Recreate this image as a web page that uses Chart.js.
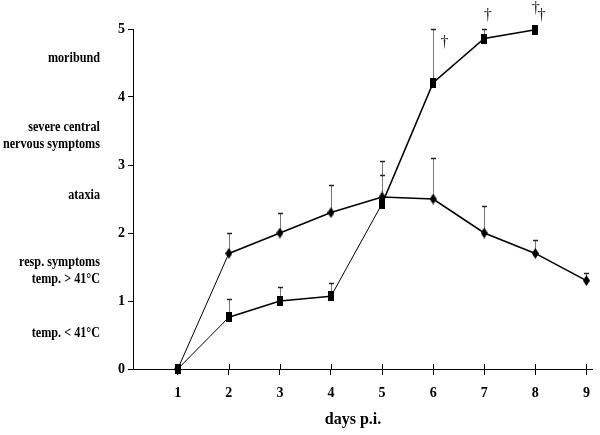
<!DOCTYPE html>
<html><head><meta charset="utf-8">
<script src="https://cdn.jsdelivr.net/npm/chart.js@4/dist/chart.umd.min.js"></script>
<style>html,body{margin:0;padding:0;background:#fff}#wrap{width:600px;height:435px;position:relative}</style>
</head><body><div id="wrap"><canvas id="c"></canvas></div>
<script>
const days = [1,2,3,4,5,6,7,8,9];
const diamondMean = [0,1.7,2.0,2.3,2.53,2.5,2.0,1.7,1.3];
const diamondUpper = [null,2.0,2.3,2.7,3.06,3.1,2.4,1.9,1.41];
const squareDays = [1,2,3,4,5,6,7,8];
const squareMean = [0,0.76,1.0,1.07,2.43,4.21,4.86,4.99];
const squareUpper = [null,1.03,1.21,1.26,2.86,5.0,5.0,null];
const yTicks = [0,1,2,3,4,5];
const stageLabels = [['moribund'],['severe central','nervous symptoms'],['ataxia'],['resp. symptoms','temp. > 41°C'],['temp. < 41°C']];
const stageLevels = [4.57,3.43,2.56,1.44,0.53];
const daggerDays = [6.22,7.07,8.01,8.12];
const daggerValues = [4.79,5.2,5.29,5.2];
const xTitle = 'days p.i.';

const SERIF = '"Liberation Serif","Times New Roman",serif';

function mk(w,h,draw){const c=document.createElement('canvas');c.width=w;c.height=h;const g=c.getContext('2d');g.fillStyle='#000';draw(g,w,h);return c;}
const sqImg = mk(6,10,(g,w,h)=>g.fillRect(0,0,w,h));
const dmImg = mk(7,11,(g,w,h)=>{g.beginPath();g.moveTo(w/2,0);g.lineTo(w,h/2);g.lineTo(w/2,h);g.lineTo(0,h/2);g.closePath();g.fill();});

const overlay = {
  id:'overlay',
  beforeDatasetsDraw(chart){
    const ctx=chart.ctx, xs=chart.scales.x, ys=chart.scales.y;
    ctx.save();
    const bars=[[days,diamondUpper,diamondMean],[squareDays,squareUpper,squareMean]];
    bars.forEach(([dx,up,mn])=>{
      dx.forEach((d,i)=>{
        if(up[i]==null) return;
        const px=Math.round(xs.getPixelForValue(d))+0.5;
        const y0=ys.getPixelForValue(mn[i]), y1=Math.round(ys.getPixelForValue(up[i]))+0.5;
        ctx.strokeStyle='#777';ctx.lineWidth=1;
        ctx.beginPath();ctx.moveTo(px,y0);ctx.lineTo(px,y1);ctx.stroke();
        ctx.strokeStyle='#222';ctx.lineWidth=1.5;
        ctx.beginPath();ctx.moveTo(px-2.5,y1);ctx.lineTo(px+2.5,y1);ctx.stroke();
      });
    });
    ctx.strokeStyle='#000';ctx.lineWidth=1;
    const yb=ys.getPixelForValue(0);
    days.forEach(d=>{const px=Math.round(xs.getPixelForValue(d))+0.5;ctx.beginPath();ctx.moveTo(px,yb);ctx.lineTo(px,yb-5);ctx.stroke();});
    ctx.restore();
  },
  afterDraw(chart){
    const ctx=chart.ctx, xs=chart.scales.x, ys=chart.scales.y;
    ctx.save();
    ctx.fillStyle='#000';
    ctx.font='bold 14px '+SERIF;
    ctx.textAlign='right';ctx.textBaseline='middle';
    stageLabels.forEach((lines,i)=>{
      const cy=ys.getPixelForValue(stageLevels[i]);
      const lh=17;
      lines.forEach((t,j)=>{
        const y=cy+(j-(lines.length-1)/2)*lh;
        ctx.save();ctx.translate(100,y);ctx.scale(0.87,1);ctx.fillText(t,0,0);ctx.restore();
      });
    });
    ctx.font='16px '+SERIF;ctx.textAlign='center';ctx.fillStyle='#222';
    daggerDays.forEach((d,i)=>{ctx.fillText('†',xs.getPixelForValue(d),ys.getPixelForValue(daggerValues[i]));});
    ctx.fillStyle='#000';
    ctx.font='bold 16px '+SERIF;
    ctx.fillText(xTitle,353,420);
    ctx.restore();
  }
};

const tickFont={family:SERIF,size:14,weight:'bold'};
new Chart(document.getElementById('c'),{
  type:'line',
  data:{datasets:[
    {data:days.map((d,i)=>({x:d,y:diamondMean[i]})),borderColor:'#000',borderWidth:1.6,pointStyle:dmImg,clip:false,
     segment:{borderWidth:c=>c.p0DataIndex===0?1:1.6}},
    {data:squareDays.map((d,i)=>({x:d,y:squareMean[i]})),borderColor:'#000',borderWidth:1.6,pointStyle:sqImg,clip:false,
     segment:{borderWidth:c=>(c.p0DataIndex===0||c.p0DataIndex===3)?1:1.6}}
  ]},
  options:{
    responsive:true,maintainAspectRatio:false,animation:false,
    layout:{padding:{top:29,right:5,left:0,bottom:0}},
    plugins:{legend:{display:false},tooltip:{enabled:false}},
    elements:{line:{tension:0},point:{radius:5}},
    scales:{
      x:{type:'linear',min:0.124,max:9.117,
        afterBuildTicks:s=>{s.ticks=days.map(v=>({value:v}));},
        afterFit:s=>{s.height=66;},
        grid:{drawOnChartArea:false,drawTicks:true,tickLength:6,color:'#000'},
        border:{display:true,color:'#000',width:1},
        ticks:{font:tickFont,color:'#000',padding:10,maxRotation:0,autoSkip:false}},
      y:{min:0,max:5,
        afterBuildTicks:s=>{s.ticks=yTicks.map(v=>({value:v}));},
        afterFit:s=>{s.width=133;},
        grid:{drawOnChartArea:false,drawTicks:true,tickLength:5,color:'#000'},
        border:{display:true,color:'#000',width:1},
        ticks:{font:tickFont,color:'#000',padding:3}}
    }
  },
  plugins:[overlay]
});
</script></body></html>
